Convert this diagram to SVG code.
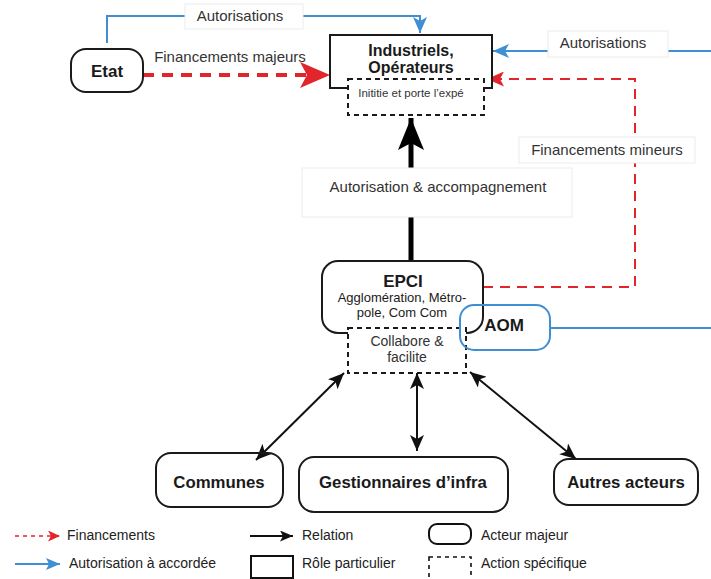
<svg xmlns="http://www.w3.org/2000/svg" width="711" height="579" viewBox="0 0 711 579">
<style>
  text { font-family: "Liberation Sans", Arial, sans-serif; fill: #1a1a1a; }
  .b { font-weight: bold; }
  .lbl { font-size: 15px; fill: #333; }
  .leg { font-size: 14px; fill: #222; }
  .actor { fill: none; stroke: #1a1a1a; stroke-width: 2; }
  .role { fill: #fff; stroke: #1a1a1a; stroke-width: 2; }
  .act { fill: #fff; stroke: #1a1a1a; stroke-width: 2; stroke-dasharray: 5 4; }
  .lblbox { fill: #fff; stroke: #ececec; stroke-width: 1; }
  .blue { fill: none; stroke: #3f8fd2; stroke-width: 2; }
  .red { fill: none; stroke: #e2242b; }
  .rel { fill: none; stroke: #111; stroke-width: 2; }
</style>
<defs>
  <marker id="hBlue" markerUnits="userSpaceOnUse" viewBox="0 0 16 14" refX="16" refY="7" markerWidth="16" markerHeight="14" orient="auto">
    <path d="M0,0 L16,7 L0,14 L4,7 z" fill="#3f8fd2"/>
  </marker>
  <marker id="hBlueS" markerUnits="userSpaceOnUse" viewBox="0 0 14 12" refX="14" refY="6" markerWidth="14" markerHeight="12" orient="auto">
    <path d="M0,0 L14,6 L0,12 L3,6 z" fill="#3f8fd2"/>
  </marker>
  <marker id="hRedBig" markerUnits="userSpaceOnUse" viewBox="0 0 30 26" refX="30" refY="13" markerWidth="30" markerHeight="26" orient="auto">
    <path d="M0,0 L30,13 L0,26 L7,13 z" fill="#e2242b"/>
  </marker>
  <marker id="hRed" markerUnits="userSpaceOnUse" viewBox="0 0 17 15" refX="17" refY="7.5" markerWidth="17" markerHeight="15" orient="auto">
    <path d="M0,0 L17,7.5 L0,15 L4,7.5 z" fill="#e2242b"/>
  </marker>
  <marker id="hRedS" markerUnits="userSpaceOnUse" viewBox="0 0 12 11" refX="12" refY="5.5" markerWidth="12" markerHeight="11" orient="auto">
    <path d="M0,0 L12,5.5 L0,11 L3,5.5 z" fill="#e2242b"/>
  </marker>
  <marker id="hBlackBig" markerUnits="userSpaceOnUse" viewBox="0 0 32 26" refX="32" refY="13" markerWidth="32" markerHeight="26" orient="auto">
    <path d="M0,0 L32,13 L0,26 L7,13 z" fill="#000"/>
  </marker>
  <marker id="hBlack" markerUnits="userSpaceOnUse" viewBox="0 0 16 14" refX="16" refY="7" markerWidth="16" markerHeight="14" orient="auto-start-reverse">
    <path d="M0,0 L16,7 L0,14 L4,7 z" fill="#111"/>
  </marker>
  <marker id="hBlackS" markerUnits="userSpaceOnUse" viewBox="0 0 13 11" refX="13" refY="5.5" markerWidth="13" markerHeight="11" orient="auto">
    <path d="M0,0 L13,5.5 L0,11 L3,5.5 z" fill="#111"/>
  </marker>
</defs>

<g id="connectors">
  <path class="blue" d="M107,43 V16 H420 V33" marker-end="url(#hBlue)"/>
  <path class="blue" d="M711,51 H493" marker-end="url(#hBlue)"/>
  <path class="blue" d="M550,328 H711"/>
  <path class="red" stroke-width="4" stroke-dasharray="11 8" d="M143,75 H330" marker-end="url(#hRedBig)"/>
  <path class="red" stroke-width="2" stroke-dasharray="10 7" d="M483,287 H635 V79 H487" marker-end="url(#hRed)"/>
  <path fill="none" stroke="#000" stroke-width="5" d="M411,261 V118" marker-end="url(#hBlackBig)"/>
  <path class="rel" d="M344,373 L256,460" marker-start="url(#hBlack)" marker-end="url(#hBlack)"/>
  <path class="rel" d="M417,373 V451" marker-start="url(#hBlack)" marker-end="url(#hBlack)"/>
  <path class="rel" d="M470,372 L576,459" marker-start="url(#hBlack)" marker-end="url(#hBlack)"/>

  <g id="lbl-autorisations-top">
    <rect class="lblbox" x="185" y="4" width="118" height="25"/>
    <text class="lbl" x="240" y="21" text-anchor="middle">Autorisations</text>
  </g>
  <text class="lbl" x="230" y="62" text-anchor="middle">Financements majeurs</text>
  <g id="lbl-autorisations-right">
    <rect class="lblbox" x="548" y="31" width="120" height="26"/>
    <text class="lbl" x="603" y="48" text-anchor="middle">Autorisations</text>
  </g>
  <g id="lbl-fin-mineurs">
    <rect class="lblbox" x="519" y="137" width="176" height="26"/>
    <text class="lbl" x="607" y="155" text-anchor="middle">Financements mineurs</text>
  </g>
  <g id="lbl-autor-accomp">
    <rect class="lblbox" x="302" y="168" width="270" height="49"/>
    <text class="lbl" x="438" y="192" text-anchor="middle">Autorisation &amp; accompagnement</text>
  </g>
</g>

<g id="etat">
  <rect class="actor" x="71" y="49" width="72" height="43" rx="15"/>
  <text class="b" x="107" y="77" font-size="17" text-anchor="middle">Etat</text>
</g>

<g id="industriels">
  <rect class="role" x="330" y="35" width="162" height="53"/>
  <text class="b" x="411" y="56" font-size="16" text-anchor="middle">Industriels,</text>
  <text class="b" x="411" y="73" font-size="16" text-anchor="middle">Opérateurs</text>
</g>

<g id="initie">
  <rect class="act" x="348" y="79" width="136" height="36"/>
  <text x="411" y="97" font-size="11.5" text-anchor="middle" style="fill:#333">Inititie et porte l’expé</text>
</g>

<g id="epci">
  <rect class="actor" x="322" y="261" width="161" height="72" rx="16"/>
  <text class="b" x="403" y="287" font-size="17" text-anchor="middle">EPCI</text>
  <text x="402" y="302" font-size="13" text-anchor="middle">Agglomération, Métro-</text>
  <text x="402" y="317" font-size="13" text-anchor="middle">pole, Com Com</text>
</g>

<g id="collabore">
  <rect class="act" x="348" y="328" width="118" height="45"/>
  <text x="407" y="346" font-size="14" text-anchor="middle" style="fill:#333">Collabore &amp;</text>
  <text x="407" y="362" font-size="14" text-anchor="middle" style="fill:#333">facilite</text>
</g>

<g id="aom">
  <rect x="460" y="305" width="90" height="45" rx="14" fill="none" stroke="#3f8fd2" stroke-width="2"/>
  <text class="b" x="504" y="331" font-size="17" text-anchor="middle">AOM</text>
</g>

<g id="communes">
  <rect class="actor" x="156" y="453" width="127" height="54" rx="15"/>
  <text class="b" x="219" y="488" font-size="16.8" text-anchor="middle">Communes</text>
</g>

<g id="gestionnaires">
  <rect class="actor" x="299" y="457" width="209" height="55" rx="15"/>
  <text class="b" x="403" y="488" font-size="16.8" text-anchor="middle">Gestionnaires d’infra</text>
</g>

<g id="autres">
  <rect class="actor" x="554" y="459" width="144" height="46" rx="15"/>
  <text class="b" x="626" y="488" font-size="16.8" text-anchor="middle">Autres acteurs</text>
</g>

<g id="legend">
  <path class="red" stroke-width="1.6" stroke-dasharray="4 4" d="M15,536 H60" marker-end="url(#hRedS)"/>
  <text class="leg" x="67" y="540">Financements</text>
  <path class="blue" d="M15,564 H60" marker-end="url(#hBlueS)"/>
  <text class="leg" x="69" y="568">Autorisation à accordée</text>
  <path class="rel" d="M250,536 H293" marker-end="url(#hBlackS)"/>
  <text class="leg" x="302" y="540">Relation</text>
  <rect x="251" y="556" width="42" height="22" fill="none" stroke="#111" stroke-width="2"/>
  <text class="leg" x="302" y="568">Rôle particulier</text>
  <rect x="429" y="524" width="42" height="20" rx="8" fill="none" stroke="#111" stroke-width="2"/>
  <text class="leg" x="481" y="540">Acteur majeur</text>
  <rect x="429" y="557" width="42" height="28" fill="none" stroke="#111" stroke-width="1.6" stroke-dasharray="4 4"/>
  <text class="leg" x="481" y="568">Action spécifique</text>
</g>
</svg>
